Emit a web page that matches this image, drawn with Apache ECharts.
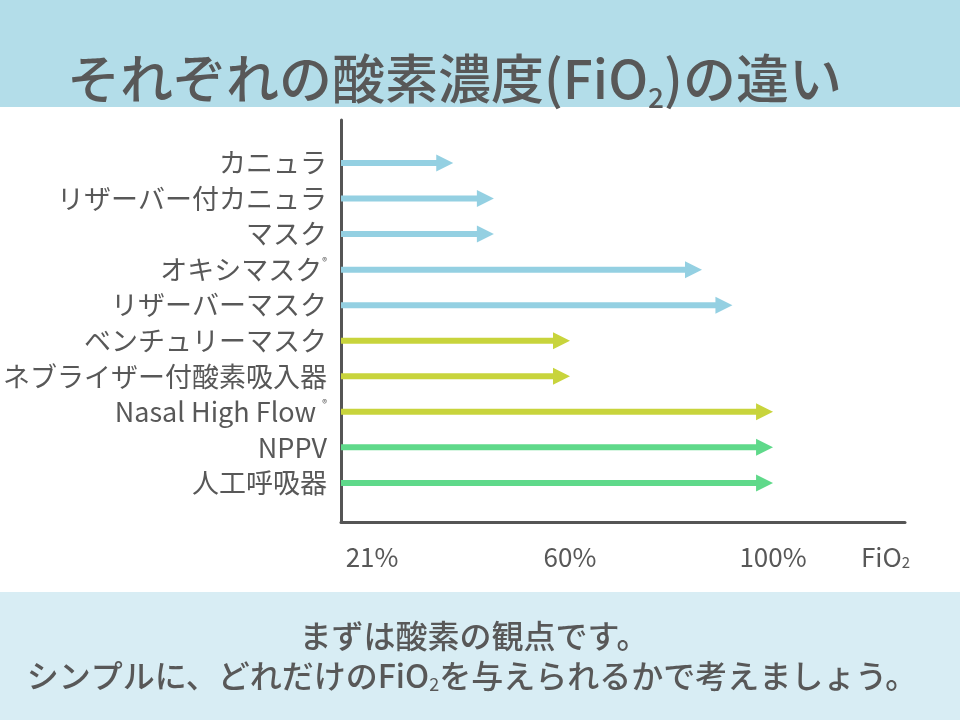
<!DOCTYPE html>
<html>
<head>
<meta charset="utf-8">
<script src="https://cdn.jsdelivr.net/npm/echarts@6/dist/echarts.min.js"></script>
<style>
html,body{margin:0;padding:0;background:#fff;}
#main{width:960px;height:720px;}
</style>
</head>
<body>
<div id="main"></div>
<script>
// ---- data ----
const categories = ['カニュラ','リザーバー付カニュラ','マスク','オキシマスク®','リザーバーマスク','ベンチュリーマスク','ネブライザー付酸素吸入器','Nasal High Flow ®','NPPV','人工呼吸器'];
const fio2Max = [37, 45, 45, 86, 92, 60, 60, 100, 100, 100];
const groups = ['low','low','low','low','low','mid','mid','mid','high','high'];
const tickValues = [21, 60, 100];
const tickLabels = ['21%', '60%', '100%'];
const axisName = 'FiO₂';
const titleText = 'それぞれの酸素濃度(FiO₂)の違い';
const footerLines = ['まずは酸素の観点です。', 'シンプルに、どれだけのFiO₂を与えられるかで考えましょう。'];

// ---- style ----
const groupColors = {low:'#94d0e2', mid:'#c8d43c', high:'#5fd98a'};
const textColor = '#585858';
const font = "'Noto Sans CJK JP', 'Noto Sans', sans-serif";
const xMin = 14.88, xMax = 126;
const yMin = -1.21, yMax = 10.1;

function sub(s){ return s.replace('₂', '{s|2}'); }
function sup(s){ return s.replace('®', '{r|®}'); }

const chart = echarts.init(document.getElementById('main'), null, {renderer:'canvas'});
const data = fio2Max.map((v, i) => ({value:[v, i], itemStyle:{color:groupColors[groups[i]]}}));

const footerRich = {s:{fontFamily:font, fontSize:18, fill:textColor, verticalAlign:'bottom', lineHeight:34}};
const footerFont = "500 32px 'Noto Sans CJK JP', sans-serif";

chart.setOption({
  backgroundColor:'#ffffff',
  animation:false,
  textStyle:{fontFamily:font},
  graphic:[
    {type:'rect', shape:{x:0,y:0,width:960,height:107}, style:{fill:'#b3dde9'}, z:-10},
    {type:'rect', shape:{x:0,y:592,width:960,height:128}, style:{fill:'#d8edf4'}, z:-10},
    {type:'text', x:474, y:636, style:{text:sub(footerLines[0]), align:'center', verticalAlign:'middle',
      font:footerFont, fill:textColor, rich:footerRich}},
    {type:'text', x:472, y:676, style:{text:sub(footerLines[1]), align:'center', verticalAlign:'middle',
      font:footerFont, fill:textColor, rich:footerRich}}
  ],
  title:[
    {text:sub(titleText), left:62, top:42,
     textStyle:{fontFamily:font, fontSize:53, fontWeight:500, color:textColor, lineHeight:64,
       rich:{s:{fontFamily:font, fontSize:28, fontWeight:500, color:textColor, verticalAlign:'bottom', lineHeight:46}}}}
  ],
  grid:{left:341, right:55, top:120, bottom:198, containLabel:false},
  xAxis:{
    type:'value', min:xMin, max:xMax,
    axisLine:{show:true, onZero:false, lineStyle:{color:'#555', width:3}},
    axisTick:{show:false}, splitLine:{show:false},
    axisLabel:{customValues:tickValues, margin:22, color:textColor, fontSize:26, fontFamily:font,
      formatter:(v)=>{const k=tickValues.indexOf(v); return k>=0?tickLabels[k]:'';}},
    name:sub(axisName), nameLocation:'end', nameGap:-44,
    nameTextStyle:{color:textColor, fontSize:26, fontFamily:font, align:'left', verticalAlign:'top', padding:[22,0,0,0],
      rich:{s:{fontSize:15, color:textColor, fontFamily:font, verticalAlign:'bottom', lineHeight:24}}}
  },
  yAxis:{
    type:'value', inverse:true, min:yMin, max:yMax,
    axisLine:{show:true, onZero:false, lineStyle:{color:'#555', width:3}},
    axisTick:{show:false}, splitLine:{show:false},
    axisLabel:{customValues:categories.map((c,i)=>i), margin:14, color:textColor, fontSize:27, fontFamily:font,
      formatter:(v)=>sup(categories[v] || ''),
      rich:{r:{fontSize:10, color:textColor, fontFamily:font, verticalAlign:'top', lineHeight:14}}}
  },
  series:[{
    type:'custom',
    data:data,
    renderItem:(params, api)=>{
      const v = api.value(0), i = api.value(1);
      const s = api.coord([xMin, i]);
      const e = api.coord([v, i]);
      const color = api.visual('color');
      const headLen = 17, headHalf = 8.5, lw = 6;
      return {type:'group', children:[
        {type:'rect', shape:{x:s[0], y:s[1]-lw/2, width:e[0]-headLen-s[0]+1, height:lw}, style:{fill:color}},
        {type:'polygon', shape:{points:[[e[0]-headLen, s[1]-headHalf],[e[0], s[1]],[e[0]-headLen, s[1]+headHalf]]}, style:{fill:color}}
      ]};
    }
  }]
});
</script>
</body>
</html>
